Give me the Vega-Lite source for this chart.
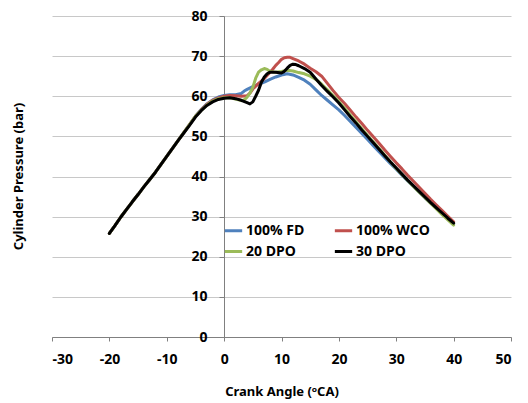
{
  "$schema": "https://vega.github.io/schema/vega-lite/v6.json",
  "width": 459,
  "height": 321,
  "autosize": "none",
  "padding": {"left": 52, "top": 16, "right": 17, "bottom": 66},
  "background": "white",
  "config": {
    "view": {"stroke": null},
    "axis": {
      "labelFont": "Open Sans", "labelFontWeight": "bold", "labelFontSize": 14, "labelColor": "#000000",
      "titleFont": "Noto Sans", "titleFontWeight": "bold", "titleFontSize": 13, "titleColor": "#000000",
      "domainColor": "#808080", "tickColor": "#808080", "gridColor": "#c8c8c8", "domainWidth": 1, "tickWidth": 1
    }
  },
  "data": {"values": [
    {"angle": -20, "pressure": 25.8, "series": "100% FD"},
    {"angle": -19, "pressure": 27.8, "series": "100% FD"},
    {"angle": -18, "pressure": 29.9, "series": "100% FD"},
    {"angle": -17, "pressure": 31.8, "series": "100% FD"},
    {"angle": -16, "pressure": 33.7, "series": "100% FD"},
    {"angle": -15, "pressure": 35.5, "series": "100% FD"},
    {"angle": -14, "pressure": 37.4, "series": "100% FD"},
    {"angle": -13, "pressure": 39.2, "series": "100% FD"},
    {"angle": -12, "pressure": 41.0, "series": "100% FD"},
    {"angle": -11, "pressure": 43.0, "series": "100% FD"},
    {"angle": -10, "pressure": 45.0, "series": "100% FD"},
    {"angle": -9, "pressure": 47.0, "series": "100% FD"},
    {"angle": -8, "pressure": 49.0, "series": "100% FD"},
    {"angle": -7, "pressure": 51.0, "series": "100% FD"},
    {"angle": -6, "pressure": 53.0, "series": "100% FD"},
    {"angle": -5, "pressure": 55.0, "series": "100% FD"},
    {"angle": -4, "pressure": 56.7, "series": "100% FD"},
    {"angle": -3, "pressure": 58.1, "series": "100% FD"},
    {"angle": -2, "pressure": 59.1, "series": "100% FD"},
    {"angle": -1, "pressure": 59.8, "series": "100% FD"},
    {"angle": 0, "pressure": 60.2, "series": "100% FD"},
    {"angle": 1, "pressure": 60.4, "series": "100% FD"},
    {"angle": 2, "pressure": 60.4, "series": "100% FD"},
    {"angle": 3, "pressure": 60.7, "series": "100% FD"},
    {"angle": 3.5, "pressure": 61.3, "series": "100% FD"},
    {"angle": 4, "pressure": 61.7, "series": "100% FD"},
    {"angle": 5, "pressure": 62.4, "series": "100% FD"},
    {"angle": 6, "pressure": 63.0, "series": "100% FD"},
    {"angle": 7, "pressure": 63.5, "series": "100% FD"},
    {"angle": 8, "pressure": 64.2, "series": "100% FD"},
    {"angle": 9, "pressure": 64.8, "series": "100% FD"},
    {"angle": 10, "pressure": 65.3, "series": "100% FD"},
    {"angle": 11, "pressure": 65.6, "series": "100% FD"},
    {"angle": 12, "pressure": 65.3, "series": "100% FD"},
    {"angle": 13, "pressure": 64.7, "series": "100% FD"},
    {"angle": 14, "pressure": 64.0, "series": "100% FD"},
    {"angle": 15, "pressure": 63.0, "series": "100% FD"},
    {"angle": 16, "pressure": 61.6, "series": "100% FD"},
    {"angle": 17, "pressure": 60.2, "series": "100% FD"},
    {"angle": 18, "pressure": 59.0, "series": "100% FD"},
    {"angle": 19, "pressure": 57.8, "series": "100% FD"},
    {"angle": 20, "pressure": 56.6, "series": "100% FD"},
    {"angle": 21, "pressure": 55.2, "series": "100% FD"},
    {"angle": 22, "pressure": 53.7, "series": "100% FD"},
    {"angle": 23, "pressure": 52.2, "series": "100% FD"},
    {"angle": 24, "pressure": 50.7, "series": "100% FD"},
    {"angle": 25, "pressure": 49.2, "series": "100% FD"},
    {"angle": 26, "pressure": 47.7, "series": "100% FD"},
    {"angle": 27, "pressure": 46.2, "series": "100% FD"},
    {"angle": 28, "pressure": 44.7, "series": "100% FD"},
    {"angle": 29, "pressure": 43.2, "series": "100% FD"},
    {"angle": 30, "pressure": 41.8, "series": "100% FD"},
    {"angle": 31, "pressure": 40.3, "series": "100% FD"},
    {"angle": 32, "pressure": 38.9, "series": "100% FD"},
    {"angle": 33, "pressure": 37.5, "series": "100% FD"},
    {"angle": 34, "pressure": 36.1, "series": "100% FD"},
    {"angle": 35, "pressure": 34.7, "series": "100% FD"},
    {"angle": 36, "pressure": 33.4, "series": "100% FD"},
    {"angle": 37, "pressure": 32.1, "series": "100% FD"},
    {"angle": 38, "pressure": 30.8, "series": "100% FD"},
    {"angle": 39, "pressure": 29.5, "series": "100% FD"},
    {"angle": 40, "pressure": 28.2, "series": "100% FD"},

    {"angle": -20, "pressure": 25.8, "series": "100% WCO"},
    {"angle": -19, "pressure": 27.8, "series": "100% WCO"},
    {"angle": -18, "pressure": 29.9, "series": "100% WCO"},
    {"angle": -17, "pressure": 31.8, "series": "100% WCO"},
    {"angle": -16, "pressure": 33.7, "series": "100% WCO"},
    {"angle": -15, "pressure": 35.5, "series": "100% WCO"},
    {"angle": -14, "pressure": 37.4, "series": "100% WCO"},
    {"angle": -13, "pressure": 39.2, "series": "100% WCO"},
    {"angle": -12, "pressure": 41.0, "series": "100% WCO"},
    {"angle": -11, "pressure": 43.0, "series": "100% WCO"},
    {"angle": -10, "pressure": 45.0, "series": "100% WCO"},
    {"angle": -9, "pressure": 47.0, "series": "100% WCO"},
    {"angle": -8, "pressure": 49.0, "series": "100% WCO"},
    {"angle": -7, "pressure": 51.0, "series": "100% WCO"},
    {"angle": -6, "pressure": 53.0, "series": "100% WCO"},
    {"angle": -5, "pressure": 55.0, "series": "100% WCO"},
    {"angle": -4, "pressure": 56.6, "series": "100% WCO"},
    {"angle": -3, "pressure": 58.0, "series": "100% WCO"},
    {"angle": -2, "pressure": 59.0, "series": "100% WCO"},
    {"angle": -1, "pressure": 59.6, "series": "100% WCO"},
    {"angle": 0, "pressure": 60.0, "series": "100% WCO"},
    {"angle": 1, "pressure": 60.2, "series": "100% WCO"},
    {"angle": 2, "pressure": 60.1, "series": "100% WCO"},
    {"angle": 3, "pressure": 60.0, "series": "100% WCO"},
    {"angle": 4, "pressure": 60.1, "series": "100% WCO"},
    {"angle": 4.5, "pressure": 60.8, "series": "100% WCO"},
    {"angle": 5, "pressure": 61.8, "series": "100% WCO"},
    {"angle": 6, "pressure": 63.2, "series": "100% WCO"},
    {"angle": 7, "pressure": 64.4, "series": "100% WCO"},
    {"angle": 8, "pressure": 66.0, "series": "100% WCO"},
    {"angle": 8.5, "pressure": 66.8, "series": "100% WCO"},
    {"angle": 9, "pressure": 67.7, "series": "100% WCO"},
    {"angle": 9.5, "pressure": 68.4, "series": "100% WCO"},
    {"angle": 10, "pressure": 69.2, "series": "100% WCO"},
    {"angle": 10.5, "pressure": 69.6, "series": "100% WCO"},
    {"angle": 11, "pressure": 69.7, "series": "100% WCO"},
    {"angle": 11.5, "pressure": 69.7, "series": "100% WCO"},
    {"angle": 12, "pressure": 69.4, "series": "100% WCO"},
    {"angle": 13, "pressure": 68.8, "series": "100% WCO"},
    {"angle": 14, "pressure": 68.0, "series": "100% WCO"},
    {"angle": 15, "pressure": 67.0, "series": "100% WCO"},
    {"angle": 16, "pressure": 66.1, "series": "100% WCO"},
    {"angle": 17, "pressure": 65.0, "series": "100% WCO"},
    {"angle": 18, "pressure": 63.2, "series": "100% WCO"},
    {"angle": 19, "pressure": 61.4, "series": "100% WCO"},
    {"angle": 20, "pressure": 59.7, "series": "100% WCO"},
    {"angle": 21, "pressure": 58.2, "series": "100% WCO"},
    {"angle": 22, "pressure": 56.5, "series": "100% WCO"},
    {"angle": 23, "pressure": 54.8, "series": "100% WCO"},
    {"angle": 24, "pressure": 53.2, "series": "100% WCO"},
    {"angle": 25, "pressure": 51.5, "series": "100% WCO"},
    {"angle": 26, "pressure": 49.9, "series": "100% WCO"},
    {"angle": 27, "pressure": 48.3, "series": "100% WCO"},
    {"angle": 28, "pressure": 46.6, "series": "100% WCO"},
    {"angle": 29, "pressure": 45.0, "series": "100% WCO"},
    {"angle": 30, "pressure": 43.4, "series": "100% WCO"},
    {"angle": 31, "pressure": 41.9, "series": "100% WCO"},
    {"angle": 32, "pressure": 40.3, "series": "100% WCO"},
    {"angle": 33, "pressure": 38.8, "series": "100% WCO"},
    {"angle": 34, "pressure": 37.3, "series": "100% WCO"},
    {"angle": 35, "pressure": 35.8, "series": "100% WCO"},
    {"angle": 36, "pressure": 34.3, "series": "100% WCO"},
    {"angle": 37, "pressure": 32.9, "series": "100% WCO"},
    {"angle": 38, "pressure": 31.5, "series": "100% WCO"},
    {"angle": 39, "pressure": 30.1, "series": "100% WCO"},
    {"angle": 40, "pressure": 28.7, "series": "100% WCO"},

    {"angle": -20, "pressure": 25.8, "series": "20 DPO"},
    {"angle": -19, "pressure": 27.8, "series": "20 DPO"},
    {"angle": -18, "pressure": 29.9, "series": "20 DPO"},
    {"angle": -17, "pressure": 31.8, "series": "20 DPO"},
    {"angle": -16, "pressure": 33.7, "series": "20 DPO"},
    {"angle": -15, "pressure": 35.5, "series": "20 DPO"},
    {"angle": -14, "pressure": 37.4, "series": "20 DPO"},
    {"angle": -13, "pressure": 39.2, "series": "20 DPO"},
    {"angle": -12, "pressure": 41.0, "series": "20 DPO"},
    {"angle": -11, "pressure": 43.0, "series": "20 DPO"},
    {"angle": -10, "pressure": 45.0, "series": "20 DPO"},
    {"angle": -9, "pressure": 47.0, "series": "20 DPO"},
    {"angle": -8, "pressure": 49.0, "series": "20 DPO"},
    {"angle": -7, "pressure": 51.0, "series": "20 DPO"},
    {"angle": -6, "pressure": 53.0, "series": "20 DPO"},
    {"angle": -5, "pressure": 55.0, "series": "20 DPO"},
    {"angle": -4, "pressure": 56.5, "series": "20 DPO"},
    {"angle": -3, "pressure": 57.8, "series": "20 DPO"},
    {"angle": -2, "pressure": 58.8, "series": "20 DPO"},
    {"angle": -1, "pressure": 59.4, "series": "20 DPO"},
    {"angle": 0, "pressure": 59.6, "series": "20 DPO"},
    {"angle": 1, "pressure": 59.6, "series": "20 DPO"},
    {"angle": 2, "pressure": 59.3, "series": "20 DPO"},
    {"angle": 3, "pressure": 58.9, "series": "20 DPO"},
    {"angle": 3.5, "pressure": 59.1, "series": "20 DPO"},
    {"angle": 4, "pressure": 59.8, "series": "20 DPO"},
    {"angle": 4.5, "pressure": 60.8, "series": "20 DPO"},
    {"angle": 5, "pressure": 62.2, "series": "20 DPO"},
    {"angle": 5.5, "pressure": 64.5, "series": "20 DPO"},
    {"angle": 6, "pressure": 66.0, "series": "20 DPO"},
    {"angle": 6.5, "pressure": 66.6, "series": "20 DPO"},
    {"angle": 7, "pressure": 66.9, "series": "20 DPO"},
    {"angle": 7.5, "pressure": 66.7, "series": "20 DPO"},
    {"angle": 8, "pressure": 66.2, "series": "20 DPO"},
    {"angle": 9, "pressure": 66.0, "series": "20 DPO"},
    {"angle": 10, "pressure": 66.2, "series": "20 DPO"},
    {"angle": 11, "pressure": 66.5, "series": "20 DPO"},
    {"angle": 12, "pressure": 66.3, "series": "20 DPO"},
    {"angle": 13, "pressure": 65.9, "series": "20 DPO"},
    {"angle": 14, "pressure": 65.6, "series": "20 DPO"},
    {"angle": 15, "pressure": 65.0, "series": "20 DPO"},
    {"angle": 16, "pressure": 64.2, "series": "20 DPO"},
    {"angle": 17, "pressure": 63.0, "series": "20 DPO"},
    {"angle": 18, "pressure": 61.6, "series": "20 DPO"},
    {"angle": 19, "pressure": 60.1, "series": "20 DPO"},
    {"angle": 20, "pressure": 58.6, "series": "20 DPO"},
    {"angle": 21, "pressure": 57.0, "series": "20 DPO"},
    {"angle": 22, "pressure": 55.3, "series": "20 DPO"},
    {"angle": 23, "pressure": 53.6, "series": "20 DPO"},
    {"angle": 24, "pressure": 51.9, "series": "20 DPO"},
    {"angle": 25, "pressure": 50.2, "series": "20 DPO"},
    {"angle": 26, "pressure": 48.6, "series": "20 DPO"},
    {"angle": 27, "pressure": 47.0, "series": "20 DPO"},
    {"angle": 28, "pressure": 45.3, "series": "20 DPO"},
    {"angle": 29, "pressure": 43.6, "series": "20 DPO"},
    {"angle": 30, "pressure": 42.0, "series": "20 DPO"},
    {"angle": 31, "pressure": 40.5, "series": "20 DPO"},
    {"angle": 32, "pressure": 39.0, "series": "20 DPO"},
    {"angle": 33, "pressure": 37.5, "series": "20 DPO"},
    {"angle": 34, "pressure": 36.1, "series": "20 DPO"},
    {"angle": 35, "pressure": 34.7, "series": "20 DPO"},
    {"angle": 36, "pressure": 33.3, "series": "20 DPO"},
    {"angle": 37, "pressure": 31.9, "series": "20 DPO"},
    {"angle": 38, "pressure": 30.5, "series": "20 DPO"},
    {"angle": 39, "pressure": 29.2, "series": "20 DPO"},
    {"angle": 40, "pressure": 27.9, "series": "20 DPO"},

    {"angle": -20, "pressure": 25.8, "series": "30 DPO"},
    {"angle": -19, "pressure": 27.8, "series": "30 DPO"},
    {"angle": -18, "pressure": 29.9, "series": "30 DPO"},
    {"angle": -17, "pressure": 31.8, "series": "30 DPO"},
    {"angle": -16, "pressure": 33.7, "series": "30 DPO"},
    {"angle": -15, "pressure": 35.5, "series": "30 DPO"},
    {"angle": -14, "pressure": 37.4, "series": "30 DPO"},
    {"angle": -13, "pressure": 39.2, "series": "30 DPO"},
    {"angle": -12, "pressure": 41.0, "series": "30 DPO"},
    {"angle": -11, "pressure": 43.0, "series": "30 DPO"},
    {"angle": -10, "pressure": 45.0, "series": "30 DPO"},
    {"angle": -9, "pressure": 47.0, "series": "30 DPO"},
    {"angle": -8, "pressure": 49.0, "series": "30 DPO"},
    {"angle": -7, "pressure": 50.9, "series": "30 DPO"},
    {"angle": -6, "pressure": 52.8, "series": "30 DPO"},
    {"angle": -5, "pressure": 54.8, "series": "30 DPO"},
    {"angle": -4, "pressure": 56.4, "series": "30 DPO"},
    {"angle": -3, "pressure": 57.7, "series": "30 DPO"},
    {"angle": -2, "pressure": 58.6, "series": "30 DPO"},
    {"angle": -1, "pressure": 59.2, "series": "30 DPO"},
    {"angle": 0, "pressure": 59.5, "series": "30 DPO"},
    {"angle": 1, "pressure": 59.6, "series": "30 DPO"},
    {"angle": 2, "pressure": 59.4, "series": "30 DPO"},
    {"angle": 3, "pressure": 59.0, "series": "30 DPO"},
    {"angle": 4, "pressure": 58.4, "series": "30 DPO"},
    {"angle": 4.5, "pressure": 58.1, "series": "30 DPO"},
    {"angle": 5, "pressure": 58.6, "series": "30 DPO"},
    {"angle": 5.5, "pressure": 60.0, "series": "30 DPO"},
    {"angle": 6, "pressure": 61.5, "series": "30 DPO"},
    {"angle": 6.5, "pressure": 63.5, "series": "30 DPO"},
    {"angle": 7, "pressure": 64.8, "series": "30 DPO"},
    {"angle": 7.5, "pressure": 65.6, "series": "30 DPO"},
    {"angle": 8, "pressure": 66.0, "series": "30 DPO"},
    {"angle": 9, "pressure": 66.0, "series": "30 DPO"},
    {"angle": 10, "pressure": 65.8, "series": "30 DPO"},
    {"angle": 10.5, "pressure": 66.2, "series": "30 DPO"},
    {"angle": 11, "pressure": 67.0, "series": "30 DPO"},
    {"angle": 11.5, "pressure": 67.7, "series": "30 DPO"},
    {"angle": 12, "pressure": 68.0, "series": "30 DPO"},
    {"angle": 12.5, "pressure": 67.9, "series": "30 DPO"},
    {"angle": 13, "pressure": 67.6, "series": "30 DPO"},
    {"angle": 14, "pressure": 66.9, "series": "30 DPO"},
    {"angle": 15, "pressure": 66.0, "series": "30 DPO"},
    {"angle": 16, "pressure": 64.3, "series": "30 DPO"},
    {"angle": 17, "pressure": 62.7, "series": "30 DPO"},
    {"angle": 18, "pressure": 61.2, "series": "30 DPO"},
    {"angle": 19, "pressure": 59.8, "series": "30 DPO"},
    {"angle": 20, "pressure": 58.3, "series": "30 DPO"},
    {"angle": 21, "pressure": 56.6, "series": "30 DPO"},
    {"angle": 22, "pressure": 54.9, "series": "30 DPO"},
    {"angle": 23, "pressure": 53.3, "series": "30 DPO"},
    {"angle": 24, "pressure": 51.6, "series": "30 DPO"},
    {"angle": 25, "pressure": 50.0, "series": "30 DPO"},
    {"angle": 26, "pressure": 48.4, "series": "30 DPO"},
    {"angle": 27, "pressure": 46.8, "series": "30 DPO"},
    {"angle": 28, "pressure": 45.2, "series": "30 DPO"},
    {"angle": 29, "pressure": 43.6, "series": "30 DPO"},
    {"angle": 30, "pressure": 42.1, "series": "30 DPO"},
    {"angle": 31, "pressure": 40.6, "series": "30 DPO"},
    {"angle": 32, "pressure": 39.1, "series": "30 DPO"},
    {"angle": 33, "pressure": 37.7, "series": "30 DPO"},
    {"angle": 34, "pressure": 36.3, "series": "30 DPO"},
    {"angle": 35, "pressure": 34.9, "series": "30 DPO"},
    {"angle": 36, "pressure": 33.5, "series": "30 DPO"},
    {"angle": 37, "pressure": 32.2, "series": "30 DPO"},
    {"angle": 38, "pressure": 30.9, "series": "30 DPO"},
    {"angle": 39, "pressure": 29.6, "series": "30 DPO"},
    {"angle": 40, "pressure": 28.4, "series": "30 DPO"}
  ]},
  "mark": {"type": "line", "strokeWidth": 3, "strokeCap": "round", "strokeJoin": "round"},
  "encoding": {
    "x": {
      "field": "angle", "type": "quantitative",
      "scale": {"domain": [-30, 50], "nice": false, "zero": false},
      "axis": {
        "values": [-30, -20, -10, 0, 10, 20, 30, 40, 50],
        "labelExpr": "'' + datum.value",
        "grid": false, "tickSize": 4, "labelPadding": 11,
        "title": "Crank Angle (ᵒCA)", "titleFontSize": 13, "titleY": 58, "titleBaseline": "alphabetic"
      }
    },
    "y": {
      "field": "pressure", "type": "quantitative",
      "scale": {"domain": [0, 80], "nice": false},
      "axis": {
        "values": [0, 10, 20, 30, 40, 50, 60, 70, 80],
        "offset": -172, "grid": true, "tickSize": 5, "labelPadding": 12,
        "title": "Cylinder Pressure (bar)",
        "titleX": -206, "titleY": 160, "titleAngle": -90,
        "titleAlign": "center", "titleBaseline": "middle"
      }
    },
    "color": {
      "field": "series", "type": "nominal",
      "scale": {
        "domain": ["100% FD", "100% WCO", "20 DPO", "30 DPO"],
        "range": ["#4F81BD", "#C0504D", "#9BBB59", "#000000"]
      },
      "legend": {
        "orient": "none", "legendX": 171, "legendY": 204, "columns": 2, "direction": "horizontal",
        "title": null, "padding": 0,
        "symbolType": "stroke", "symbolSize": 300, "symbolStrokeWidth": 3,
        "labelFont": "Open Sans", "labelFontSize": 14, "labelFontWeight": "bold", "labelColor": "#000000",
        "labelOffset": 2, "columnPadding": 23, "rowPadding": 3
      }
    }
  }
}
